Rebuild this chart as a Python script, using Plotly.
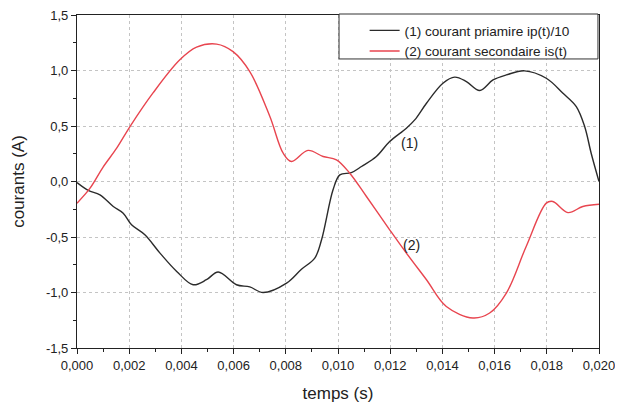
import plotly.graph_objects as go

# (1) courant primaire ip(t)/10
t_ip = [0, 0.00043, 0.00088, 0.00139, 0.00177, 0.00209, 0.0026, 0.00318, 0.00382, 0.00445,
        0.00496, 0.00541, 0.00611, 0.00662, 0.00713, 0.00803, 0.00860, 0.00911, 0.00937,
        0.00981, 0.01007, 0.01051, 0.0109, 0.01147, 0.01198, 0.01262, 0.01294, 0.01339,
        0.01402, 0.01447, 0.01492, 0.01543, 0.01594, 0.01645, 0.01715, 0.01798, 0.01862,
        0.01913, 0.01945, 0.0197, 0.0200]
ip = [-0.01, -0.08, -0.12, -0.225, -0.285, -0.39, -0.48, -0.645, -0.81, -0.93,
      -0.885, -0.815, -0.93, -0.95, -1.0, -0.915, -0.79, -0.69, -0.525,
      -0.075, 0.06, 0.08, 0.135, 0.225, 0.36, 0.48, 0.555, 0.705,
      0.885, 0.94, 0.90, 0.82, 0.915, 0.96, 0.997, 0.93, 0.795,
      0.675, 0.495, 0.255, 0.0]

# (2) courant secondaire is(t)
t_is = [0, 0.0005, 0.001, 0.00152, 0.00203, 0.00292, 0.00394, 0.00458, 0.00535, 0.00598,
        0.00662, 0.00739, 0.0079, 0.00822, 0.00885, 0.00943, 0.00994, 0.01045, 0.01109,
        0.01198, 0.01262, 0.01339, 0.01415, 0.01517, 0.01581, 0.01645, 0.01721, 0.01798,
        0.01823, 0.01881, 0.01938, 0.0200]
is_ = [-0.195, -0.06, 0.13, 0.30, 0.495, 0.80, 1.096, 1.21, 1.238, 1.17,
       0.99, 0.585, 0.255, 0.18, 0.28, 0.225, 0.195, 0.075, -0.135,
       -0.435, -0.645, -0.885, -1.126, -1.23, -1.185, -1.005, -0.585, -0.195,
       -0.18, -0.28, -0.225, -0.205]

x_tickvals = [0, 0.002, 0.004, 0.006, 0.008, 0.010, 0.012, 0.014, 0.016, 0.018, 0.020]
x_ticktext = ["0,000", "0,002", "0,004", "0,006", "0,008", "0,010", "0,012", "0,014",
              "0,016", "0,018", "0,020"]
y_tickvals = [-1.5, -1.0, -0.5, 0.0, 0.5, 1.0, 1.5]
y_ticktext = ["-1,5", "-1,0", "-0,5", "0,0", "0,5", "1,0", "1,5"]

FONT = "Liberation Sans, Arial, sans-serif"

fig = go.Figure()
fig.add_trace(go.Scatter(x=t_ip, y=ip, mode="lines", name="(1) courant priamire ip(t)/10",
                         line=dict(color="#2b2b2b", width=1.4, shape="spline")))
fig.add_trace(go.Scatter(x=t_is, y=is_, mode="lines", name="(2) courant secondaire is(t)",
                         line=dict(color="#e8454f", width=1.4, shape="spline")))

fig.add_annotation(x=0.01275, y=0.35, text="(1)", showarrow=False,
                   font=dict(size=14, color="#222", family=FONT))
fig.add_annotation(x=0.01281, y=-0.57, text="(2)", showarrow=False,
                   font=dict(size=14, color="#222", family=FONT))

# legend frame (white box behind the legend entries)
fig.add_shape(type="rect", xref="paper", yref="paper", x0=0.502, x1=0.998, y0=0.868, y1=1.003,
              fillcolor="white", line=dict(color="#333", width=1), layer="above")

axis_common = dict(showline=True, linecolor="#222", linewidth=1.2, mirror=True,
                   ticks="outside", ticklen=5, tickcolor="#222",
                   showgrid=True, gridcolor="#c4c4c4", griddash="dot", gridwidth=1,
                   zeroline=False, automargin=False, ticklabeloverflow="allow",
                   tickfont=dict(size=13, color="#222", family=FONT))

fig.update_xaxes(range=[0, 0.020], tickmode="array", tickvals=x_tickvals, ticktext=x_ticktext,
                 title=dict(text="temps (s)", font=dict(size=17, color="#222", family=FONT), standoff=15),
                 minor=dict(tickmode="linear", tick0=0, dtick=0.001, ticks="outside",
                            ticklen=3, tickcolor="#222", showgrid=False),
                 **axis_common)
fig.update_yaxes(range=[-1.5, 1.5], tickmode="array", tickvals=y_tickvals, ticktext=y_ticktext,
                 title=dict(text="courants (A)", font=dict(size=17, color="#222", family=FONT), standoff=16),
                 minor=dict(tickmode="linear", tick0=0, dtick=0.25, ticks="outside",
                            ticklen=3, tickcolor="#222", showgrid=False),
                 **axis_common)

fig.update_layout(
    width=615, height=399,
    margin=dict(l=69, r=24, t=7, b=59),
    plot_bgcolor="white", paper_bgcolor="white",
    font=dict(family=FONT, color="#222"),
    legend=dict(x=0.551, y=1.0, xanchor="left", yanchor="top", bgcolor="rgba(0,0,0,0)",
                borderwidth=0, font=dict(size=13.6, family=FONT, color="#222"),
                tracegroupgap=0, itemwidth=30),
    showlegend=True,
)

fig.write_html("out.html")
